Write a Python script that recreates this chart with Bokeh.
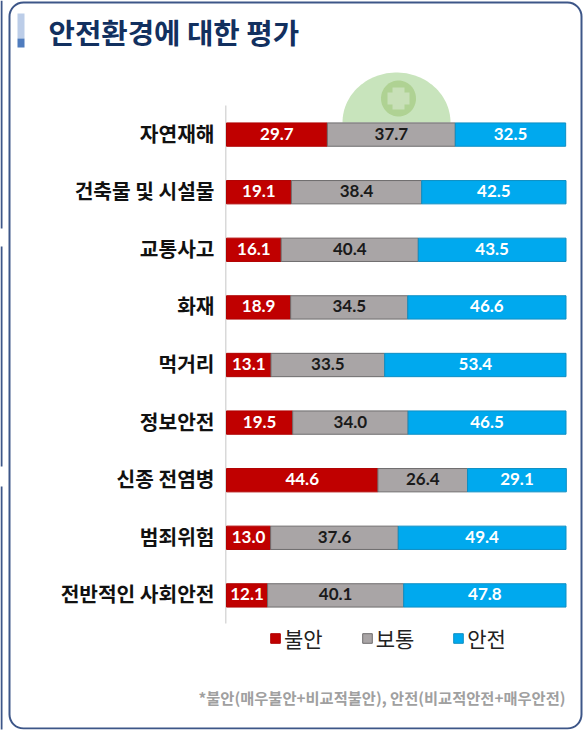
from bokeh.plotting import figure
from bokeh.embed import file_html
from bokeh.resources import INLINE
from bokeh.models import (ColumnDataSource, Range1d, FactorRange, Label, BoxAnnotation,
                          PolyAnnotation, Legend, LegendItem)
from bokeh.core.properties import value
import numpy as np

categories = ["자연재해", "건축물 및 시설물", "교통사고", "화재", "먹거리", "정보안전",
              "신종 전염병", "범죄위험", "전반적인 사회안전"]
unsafe = [29.7, 19.1, 16.1, 18.9, 13.1, 19.5, 44.6, 13.0, 12.1]
normal = [37.7, 38.4, 40.4, 34.5, 33.5, 34.0, 26.4, 37.6, 40.1]
safe = [32.5, 42.5, 43.5, 46.6, 53.4, 46.5, 29.1, 49.4, 47.8]
series_names = ["불안", "보통", "안전"]
series_colors = ["#C00000", "#A9A5A6", "#00A9EE"]
edge_colors = ["#B00000", "#6E6C6D", "#0E8FC4"]
label_colors = ["#FFFFFF", "#1A1A1A", "#FFFFFF"]
title_text = "안전환경에 대한 평가"
note_text = "*불안(매우불안+비교적불안), 안전(비교적안전+매우안전)"

KR = "Noto Sans CJK KR"
W, H = 586, 730
BAR_L, BAR_R = 226, 565.5   # where 0 and 100 fall on the picture
ROW = 57.6                  # row pitch in pixels
FH = H - 1                  # plot frame height
upx = (BAR_R - BAR_L) / 100


def sy(y):
    return FH - y


p = figure(width=W, height=H, output_backend="svg", toolbar_location=None,
           x_range=Range1d(-BAR_L / upx, (W - BAR_L) / upx),
           y_range=FactorRange(*categories[::-1], range_padding=(FH / ROW - 9) / 2, range_padding_units="absolute"),
           min_border=0, min_border_bottom=1)
p.outline_line_color = None
p.grid.visible = False
p.axis.visible = False
p.background_fill_color = None


def box(l, r, t, b, **kw):
    kw.setdefault("line_alpha", 1)
    p.add_layout(BoxAnnotation(left=l, right=r, top=sy(t), bottom=sy(b), left_units="screen",
                               right_units="screen", top_units="screen", bottom_units="screen", **kw))


df = dict(cat=categories, left0=[0.0] * 9, right0=unsafe, zero=[0.0] * 9)
df["left1"] = unsafe
df["right1"] = [a + b for a, b in zip(unsafe, normal)]
df["left2"] = df["right1"]
df["right2"] = [a + b + c for a, b, c in zip(unsafe, normal, safe)]
df["v0"] = unsafe
df["v1"] = normal
df["v2"] = safe
for i in range(3):
    df[f"mid{i}"] = [(a + b) / 2 for a, b in zip(df[f"left{i}"], df[f"right{i}"])]
    df[f"txt{i}"] = [f"{v:.1f}" for v in df[f"v{i}"]]
src = ColumnDataSource(df)

items = []
for i in range(3):
    r = p.hbar(y="cat", left=f"left{i}", right=f"right{i}", height=0.405, source=src,
               fill_color=series_colors[i], line_color=edge_colors[i], line_width=1)
    items.append(LegendItem(label=value(series_names[i]), renderers=[r]))
for i in range(3):
    p.text(x=f"mid{i}", y="cat", text=f"txt{i}", source=src, y_offset=-1, text_align="center",
           text_baseline="middle", text_font=value("Lato"), text_font_style="bold",
           text_font_size="17px", text_color=label_colors[i])

# Category labels, right aligned against the bars
p.text(x="zero", y="cat", text="cat", source=src, x_offset=-12, y_offset=-2, text_align="right",
       text_baseline="middle", text_font=value(KR), text_font_style="bold", text_font_size="20.3px",
       text_color="#111111")

legend = Legend(items=items, orientation="horizontal", location=(269, 76),
                background_fill_alpha=0, border_line_color=None, glyph_width=12, glyph_height=12,
                label_standoff=3, spacing=38, padding=0, margin=0,
                label_text_font=KR, label_text_font_size="21px", label_text_color="#222222")
p.add_layout(legend, "center")

# Vertical axis line
box(224.5, 226, 105, 623, fill_color="#D9D9D9", fill_alpha=1, line_color=None, level="underlay")

# Panel border and the neighbouring panel's edge at the far left
box(9, 581, 2, 728, fill_alpha=0, line_color="#3D5688", line_width=2, border_radius=14, level="underlay")
for t, b in [(0, 228), (246, 466), (486, 730)]:
    box(0, 2, t, b, fill_color="#3D5688", fill_alpha=1, line_color=None, level="underlay")

# Title accent
box(17, 24, 13, 38, fill_color="#BCCDE8", fill_alpha=1, line_color=None)
box(17, 24, 38, 47, fill_color="#4F7CBE", fill_alpha=1, line_color=None)
p.add_layout(Label(x=48, y=sy(31), x_units="screen", y_units="screen", text=title_text,
                   text_font=KR, text_font_style="bold", text_font_size="28.7px", text_color="#12305F",
                   text_baseline="middle", text_align="left"))

# Green dome emblem behind the first bar
t = np.linspace(np.pi, 2 * np.pi, 60)
p.add_layout(PolyAnnotation(xs=list(396 + 54 * np.cos(t)), ys=list(sy(122) - 50 * np.sin(t)),
                            xs_units="screen", ys_units="screen", fill_color="#C8E4BC", fill_alpha=1,
                            line_color=None, level="underlay"))
t = np.linspace(0, 2 * np.pi, 48)
p.add_layout(PolyAnnotation(xs=list(398 + 17.5 * np.cos(t)), ys=list(sy(98) + 18 * np.sin(t)),
                            xs_units="screen", ys_units="screen", fill_color="#AFD293", fill_alpha=1,
                            line_color=None, level="underlay"))
for l, r, tp, b in [(392, 404, 87, 109), (387, 409, 92, 104)]:
    box(l, r, tp, b, fill_color="#C8E0B8", fill_alpha=1, line_color="#C8E0B8", line_width=0, level="underlay")

p.add_layout(Label(x=565, y=sy(696), x_units="screen", y_units="screen", text=note_text,
                   text_font=KR, text_font_style="bold", text_font_size="15.3px", text_color="#A0A0A0",
                   text_baseline="middle", text_align="right"))

open("out.html", "w").write(file_html(p, INLINE))
